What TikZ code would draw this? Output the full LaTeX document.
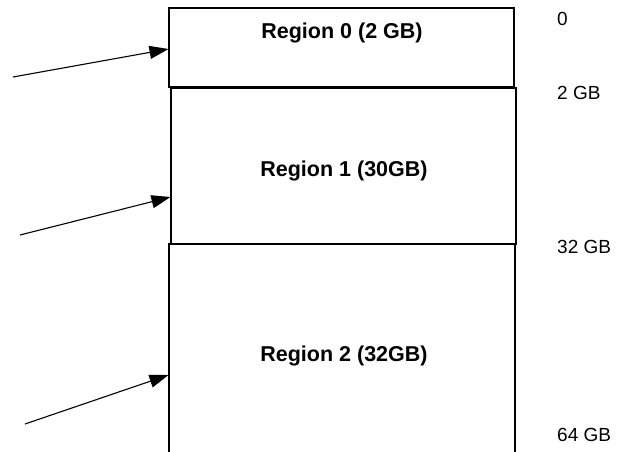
\documentclass[tikz,border=0pt]{standalone}
\usepackage{fontspec}
\setmainfont{Liberation Sans}
\usetikzlibrary{arrows.meta}
\begin{document}
\begin{tikzpicture}[x=1pt,y=-1pt,
  region/.style={draw=black,line width=1.1pt,rectangle,inner sep=0pt},
  rlabel/.style={font=\fontsize{21.5}{25}\selectfont\bfseries,inner sep=0pt},
  addr/.style={font=\fontsize{19}{23}\selectfont,anchor=west,inner sep=0pt},
  ptr/.style={line width=1.1pt,-{Triangle[length=19pt,width=13pt]}}]
\useasboundingbox (0,0) rectangle (643,451);
\node[region,minimum width=345pt,minimum height=79pt] (r0) at (341.5,47.5) {};
\node[region,minimum width=345pt,minimum height=156pt] (r1) at (343.5,166) {};
\node[region,minimum width=346pt,minimum height=214pt] (r2) at (342,351) {};
\node[rlabel] (l0) at (342,33) {Region 0 (2 GB)};
\node[rlabel] (l1) at (344,171) {Region 1 (30GB)};
\node[rlabel] (l2) at (344,356) {Region 2 (32GB)};
\node[addr] (a0) at (557,19) {0};
\node[addr] (a1) at (557,93) {2 GB};
\node[addr] (a2) at (557,247) {32 GB};
\node[addr] (a3) at (557,435) {64 GB};
\coordinate (s0) at (13,77);
\coordinate (t0) at (168.5,49);
\coordinate (s1) at (20,235);
\coordinate (t1) at (170.5,197);
\coordinate (s2) at (25,424);
\coordinate (t2) at (168.5,375);
\draw[ptr] (s0) -- (t0);
\draw[ptr] (s1) -- (t1);
\draw[ptr] (s2) -- (t2);
\end{tikzpicture}
\end{document}
